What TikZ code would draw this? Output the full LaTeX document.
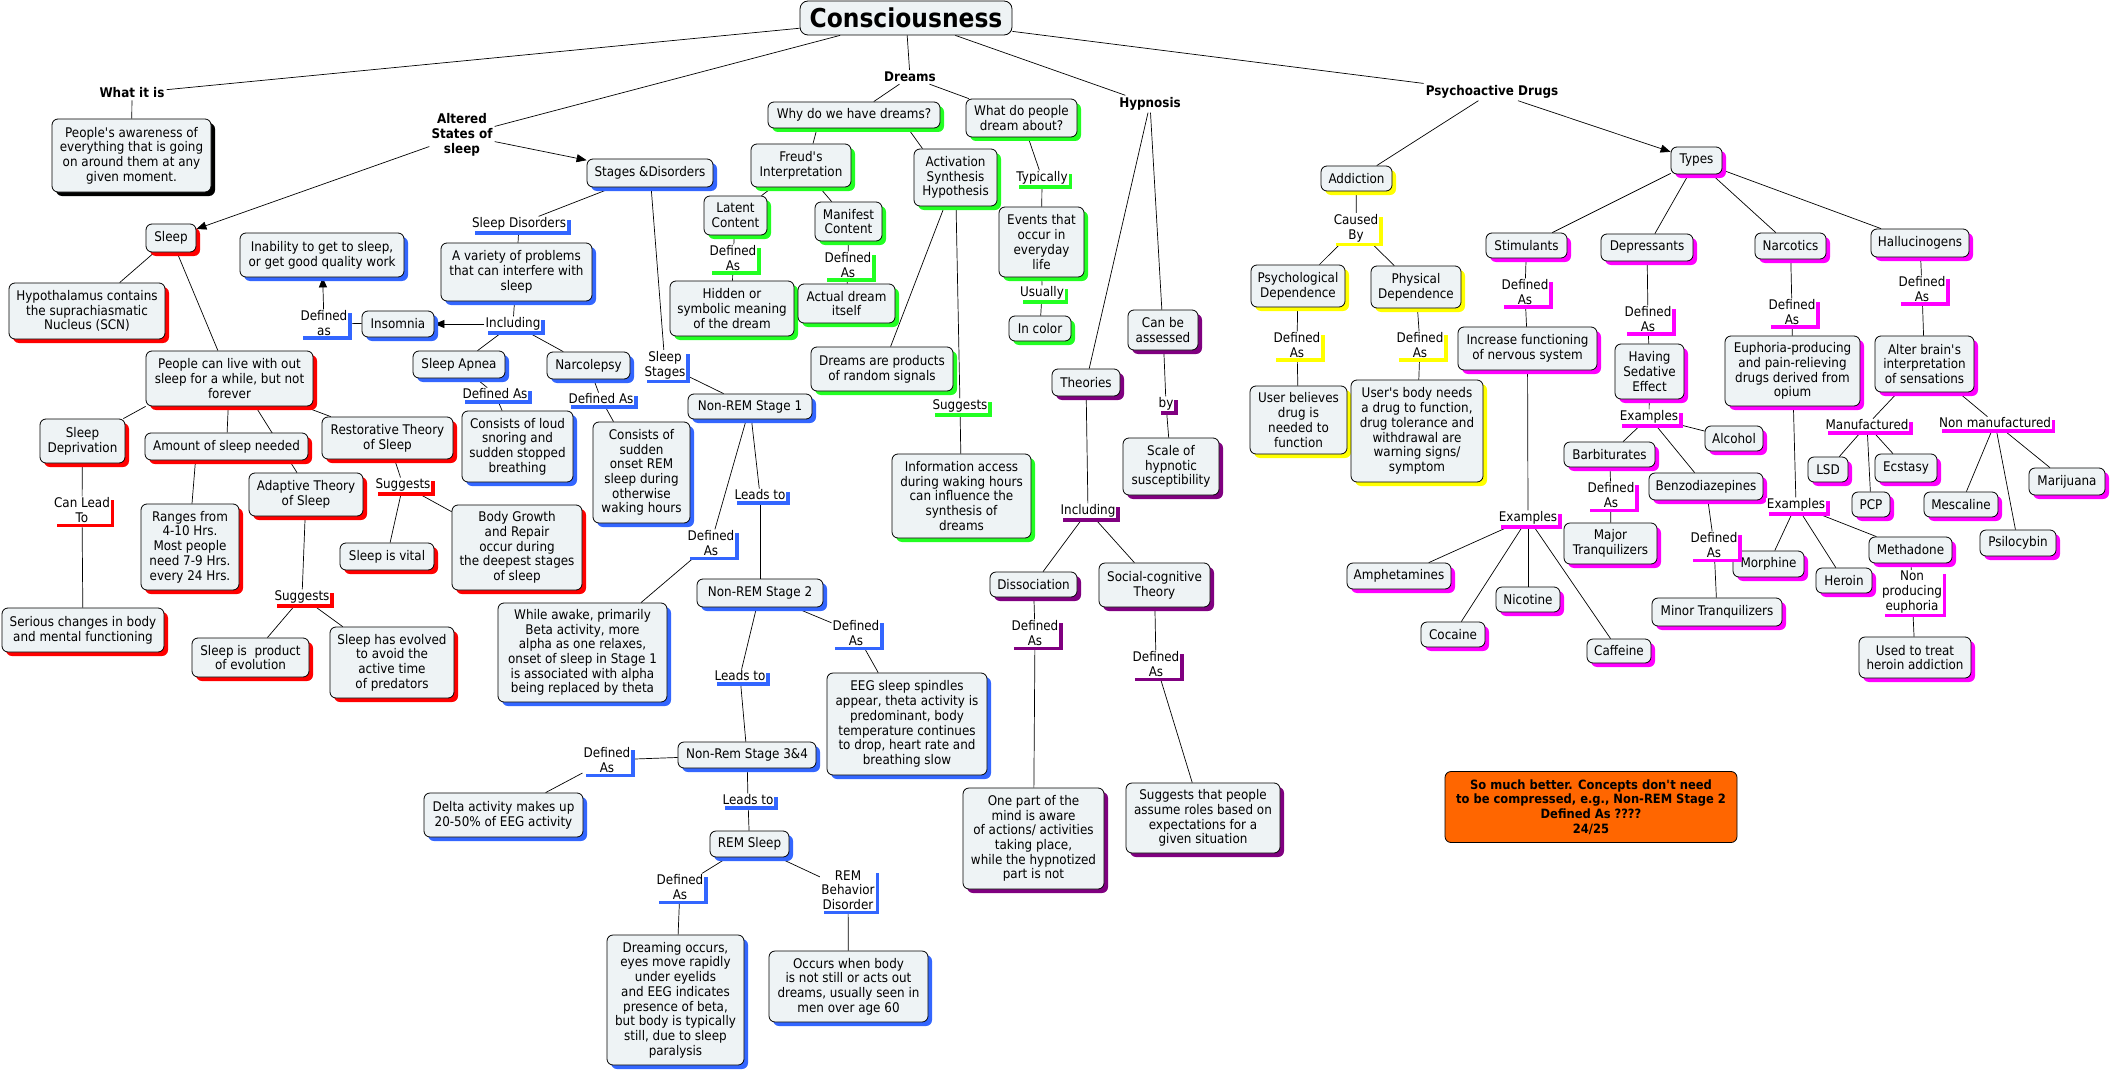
\documentclass[tikz,border=0pt]{standalone}
\usepackage{fontspec}
\setmainfont{DejaVu Sans}[FakeStretch=0.9]
\usetikzlibrary{shadows,arrows.meta}
\definecolor{cred}{HTML}{FF0000}
\definecolor{cblue}{HTML}{3366FF}
\definecolor{cgreen}{HTML}{22FF22}
\definecolor{cyellow}{HTML}{FFFF00}
\definecolor{cmag}{HTML}{FF00FF}
\definecolor{cpurple}{HTML}{800080}
\definecolor{boxfill}{HTML}{EEF3F5}
\definecolor{corange}{HTML}{FF6600}
\pgfdeclarelayer{bg}
\pgfsetlayers{bg,main}
\newcommand\fs{\fontsize{13.3}{14.7}\selectfont}
\newcommand\ap{\textquotesingle}
\tikzset{
  cbox/.style={draw=black, line width=0.8pt, rounded corners=6pt, fill=boxfill, align=center,
    inner xsep=2pt, inner ysep=1pt, font=\fs,
    drop shadow={shadow xshift=4pt, shadow yshift=-4pt, fill=#1, opacity=1}},
  lnk/.style={fill=white, align=center, inner sep=1pt, font=\fs,
    drop shadow={shadow xshift=3.5pt, shadow yshift=-3.5pt, fill=#1, opacity=1}},
  toplbl/.style={font=\fs\bfseries, align=center, inner sep=2pt},
  conbox/.style={draw=black, line width=0.8pt, rounded corners=8pt, fill=boxfill,
    font=\fontsize{26}{30}\selectfont\bfseries, inner sep=1pt},
  ln/.style={line width=0.7pt},
  arr/.style={ln, -{Triangle[length=10pt,width=8pt]}}
}
\newcommand\CB[7]{\node[cbox=#6,minimum width={#4-#2},minimum height={#5-#3}] (#1) at ({(#2+#4)/2},{(#3+#5)/2}) {#7};}
\newcommand\LK[5]{\node[lnk=#4] (#1) at (#2,#3) {#5};}
\begin{document}
\begin{tikzpicture}[x=1pt,y=-1pt]
\begin{pgfonlayer}{bg}
\fill[white] (0,0) rectangle (2110,1070);
\end{pgfonlayer}
\useasboundingbox (0,0) rectangle (2110,1070);

% top
\node[conbox, minimum width=212, minimum height=34] (cons) at (906,18) {Consciousness};
\node[toplbl] (whatis) at (132,93) {What it is};
\node[toplbl] (altered) at (462,135) {Altered\\States of\\sleep};
\node[toplbl] (dreams) at (910,77) {Dreams};
\node[toplbl] (hypnosis) at (1150,104) {Hypnosis};
\node[toplbl] (psycho) at (1492,92) {Psychoactive Drugs};

% black
\CB{aware}{52}{119}{211}{192}{black}{People\ap s awareness of\\everything that is going\\on around them at any\\given moment.}

% red
\CB{sleep}{146}{224}{196}{252}{cred}{Sleep}
\CB{hypo}{9}{283}{165}{339}{cred}{Hypothalamus contains\\the suprachiasmatic\\Nucleus (SCN)}
\CB{ppl}{146}{351}{313}{406}{cred}{People can live with out\\sleep for a while, but not\\forever}
\CB{sdep}{40}{419}{125}{463}{cred}{Sleep\\Deprivation}
\CB{serious}{2}{608}{164}{652}{cred}{Serious changes in body\\and mental functioning}
\CB{amt}{145}{433}{308}{460}{cred}{Amount of sleep needed}
\CB{ranges}{141}{504}{239}{590}{cred}{Ranges from\\4-10 Hrs.\\Most people\\need 7-9 Hrs.\\every 24 Hrs.}
\CB{adapt}{249}{473}{363}{516}{cred}{Adaptive Theory\\of Sleep}
\CB{product}{192}{638}{309}{677}{cred}{Sleep is~ product\\of evolution}
\CB{evolved}{330}{627}{454}{698}{cred}{Sleep has evolved\\to avoid the\\active time\\of predators}
\CB{resto}{322}{417}{453}{459}{cred}{Restorative Theory\\of Sleep}
\CB{vital}{340}{543}{434}{570}{cred}{Sleep is vital}
\CB{growth}{452}{505}{582}{590}{cred}{Body Growth\\and Repair\\occur during\\the deepest stages\\of sleep}

% blue
\CB{stages}{587}{159}{713}{187}{cblue}{Stages \&Disorders}
\CB{inab}{240}{233}{404}{277}{cblue}{Inability to get to sleep,\\or get good quality work}
\CB{insom}{362}{311}{434}{337}{cblue}{Insomnia}
\CB{variety}{441}{243}{592}{301}{cblue}{A variety of problems\\that can interfere with\\sleep}
\CB{apnea}{413}{351}{505}{378}{cblue}{Sleep Apnea}
\CB{narco}{547}{352}{630}{379}{cblue}{Narcolepsy}
\CB{loud}{462}{411}{573}{482}{cblue}{Consists of loud\\snoring and\\sudden stopped\\breathing}
\CB{sudden}{593}{422}{690}{523}{cblue}{Consists of\\sudden\\onset REM\\sleep during\\otherwise\\waking hours}
\CB{nrem1}{688}{394}{812}{419}{cblue}{Non-REM Stage 1}
\CB{awake}{498}{603}{667}{702}{cblue}{While awake, primarily\\Beta activity, more\\alpha as one relaxes,\\onset of sleep in Stage 1\\is associated with alpha\\being replaced by theta}
\CB{nrem2}{697}{579}{823}{607}{cblue}{Non-REM Stage 2}
\CB{eeg}{827}{673}{987}{775}{cblue}{EEG sleep spindles\\appear, theta activity is\\predominant, body\\temperature continues\\to drop, heart rate and\\breathing slow}
\CB{nrem34}{678}{742}{816}{768}{cblue}{Non-Rem Stage 3\&4}
\CB{delta}{424}{793}{583}{837}{cblue}{Delta activity makes up\\20-50\% of EEG activity}
\CB{rem}{710}{831}{789}{857}{cblue}{REM Sleep}
\CB{dreaming}{607}{935}{744}{1065}{cblue}{Dreaming occurs,\\eyes move rapidly\\under eyelids\\and EEG indicates\\presence of beta,\\but body is typically\\still, due to sleep\\paralysis}
\CB{occurs}{769}{951}{928}{1022}{cblue}{Occurs when body\\is not still or acts out\\dreams, usually seen in\\men over age 60}

% green
\CB{why}{768}{102}{940}{128}{cgreen}{Why do we have dreams?}
\CB{what}{966}{99}{1077}{137}{cgreen}{What do people\\dream about?}
\CB{freud}{751}{144}{851}{187}{cgreen}{Freud\ap s\\Interpretation}
\CB{act}{914}{149}{997}{206}{cgreen}{Activation\\Synthesis\\Hypothesis}
\CB{latent}{704}{196}{767}{235}{cgreen}{Latent\\Content}
\CB{manif}{815}{202}{882}{241}{cgreen}{Manifest\\Content}
\CB{hidden}{670}{281}{794}{336}{cgreen}{Hidden or\\symbolic meaning\\of the dream}
\CB{actual}{798}{284}{895}{323}{cgreen}{Actual dream\\itself}
\CB{random}{811}{347}{953}{391}{cgreen}{Dreams are products\\of random signals}
\CB{info}{892}{454}{1031}{538}{cgreen}{Information access\\during waking hours\\can influence the\\synthesis of\\dreams}
\CB{events}{999}{207}{1084}{277}{cgreen}{Events that\\occur in\\everyday\\life}
\CB{incolor}{1009}{316}{1071}{341}{cgreen}{In color}

% purple
\CB{theories}{1052}{369}{1120}{396}{cpurple}{Theories}
\CB{assessed}{1128}{310}{1198}{350}{cpurple}{Can be\\assessed}
\CB{scale}{1123}{438}{1219}{495}{cpurple}{Scale of\\hypnotic\\susceptibility}
\CB{dissoc}{990}{572}{1077}{597}{cpurple}{Dissociation}
\CB{social}{1099}{563}{1210}{607}{cpurple}{Social-cognitive\\Theory}
\CB{onepart}{963}{788}{1104}{889}{cpurple}{One part of the\\mind is aware\\of actions/ activities\\taking place,\\while the hypnotized\\part is not}
\CB{roles}{1126}{783}{1280}{853}{cpurple}{Suggests that people\\assume roles based on\\expectations for a\\given situation}

% yellow
\CB{addict}{1321}{166}{1392}{191}{cyellow}{Addiction}
\CB{psych}{1251}{265}{1345}{307}{cyellow}{Psychological\\Dependence}
\CB{phys}{1371}{266}{1461}{308}{cyellow}{Physical\\Dependence}
\CB{believes}{1250}{386}{1347}{454}{cyellow}{User believes\\drug is\\needed to\\function}
\CB{body}{1351}{380}{1483}{482}{cyellow}{User\ap s body needs\\a drug to function,\\drug tolerance and\\withdrawal are\\warning signs/\\symptom}

% magenta
\CB{types}{1671}{147}{1722}{174}{cmag}{Types}
\CB{stim}{1486}{233}{1567}{258}{cmag}{Stimulants}
\CB{depr}{1601}{234}{1693}{261}{cmag}{Depressants}
\CB{narc}{1755}{233}{1826}{259}{cmag}{Narcotics}
\CB{hall}{1871}{229}{1969}{257}{cmag}{Hallucinogens}
\CB{incr}{1458}{327}{1597}{370}{cmag}{Increase functioning\\of nervous system}
\CB{amph}{1347}{563}{1451}{589}{cmag}{Amphetamines}
\CB{cocaine}{1421}{622}{1485}{647}{cmag}{Cocaine}
\CB{nicotine}{1496}{587}{1560}{612}{cmag}{Nicotine}
\CB{caffeine}{1587}{639}{1651}{663}{cmag}{Caffeine}
\CB{sedative}{1615}{344}{1684}{399}{cmag}{Having\\Sedative\\Effect}
\CB{alcohol}{1705}{426}{1763}{451}{cmag}{Alcohol}
\CB{barb}{1564}{442}{1655}{467}{cmag}{Barbiturates}
\CB{major}{1564}{523}{1657}{564}{cmag}{Major\\Tranquilizers}
\CB{benzo}{1649}{473}{1763}{500}{cmag}{Benzodiazepines}
\CB{minor}{1652}{598}{1782}{626}{cmag}{Minor Tranquilizers}
\CB{euph}{1725}{336}{1860}{406}{cmag}{Euphoria-producing\\and pain-relieving\\drugs derived from\\opium}
\CB{morph}{1733}{551}{1804}{577}{cmag}{Morphine}
\CB{heroin}{1816}{568}{1872}{593}{cmag}{Heroin}
\CB{metha}{1869}{537}{1952}{563}{cmag}{Methadone}
\CB{treat}{1859}{637}{1971}{678}{cmag}{Used to treat\\heroin addiction}
\CB{alter}{1875}{336}{1974}{392}{cmag}{Alter brain\ap s\\interpretation\\of sensations}
\CB{lsd}{1808}{457}{1848}{482}{cmag}{LSD}
\CB{ecstasy}{1875}{454}{1937}{482}{cmag}{Ecstasy}
\CB{pcp}{1852}{492}{1890}{517}{cmag}{PCP}
\CB{mesc}{1924}{492}{1998}{517}{cmag}{Mescaline}
\CB{psilo}{1980}{530}{2056}{556}{cmag}{Psilocybin}
\CB{mari}{2029}{468}{2105}{495}{cmag}{Marijuana}

% note
\node[draw=black, line width=0.8pt, rounded corners=6pt, fill=corange, align=center,
  font=\fontsize{12.8}{14.7}\selectfont\bfseries, inner sep=1pt,
  minimum width=292, minimum height=71] (note) at (1591,807)
  {So much better. Concepts don\ap t need\\to be compressed, e.g., Non-REM Stage 2\\Defined As ????\\24/25};

% linking phrases
\LK{defas1}{324}{323}{cblue}{Defined\\as}
\LK{incl1}{513}{324}{cblue}{Including}
\LK{sdis}{519}{224}{cblue}{Sleep Disorders}
\LK{dap}{495}{394}{cblue}{Defined As}
\LK{dnar}{601}{399}{cblue}{Defined As}
\LK{sstages}{665}{365}{cblue}{Sleep\\Stages}
\LK{lead1}{760}{495}{cblue}{Leads to}
\LK{dn1}{711}{543}{cblue}{Defined\\As}
\LK{dn2}{856}{633}{cblue}{Defined\\As}
\LK{lead2}{740}{676}{cblue}{Leads to}
\LK{dn34}{607}{760}{cblue}{Defined\\As}
\LK{lead3}{748}{800}{cblue}{Leads to}
\LK{drem}{680}{887}{cblue}{Defined\\As}
\LK{rbd}{848}{890}{cblue}{REM\\Behavior\\Disorder}
\LK{canlead}{82}{510}{cred}{Can Lead\\To}
\LK{sug1}{403}{485}{cred}{Suggests}
\LK{sug2}{302}{597}{cred}{Suggests}
\LK{dlat}{733}{258}{cgreen}{Defined\\As}
\LK{dman}{848}{265}{cgreen}{Defined\\As}
\LK{sug3}{960}{406}{cgreen}{Suggests}
\LK{typ}{1042}{178}{cgreen}{Typically}
\LK{usu}{1042}{293}{cgreen}{Usually}
\LK{by}{1166}{404}{cpurple}{by}
\LK{incl2}{1088}{511}{cpurple}{Including}
\LK{ddis}{1035}{633}{cpurple}{Defined\\As}
\LK{dsoc}{1156}{664}{cpurple}{Defined\\As}
\LK{caused}{1356}{228}{cyellow}{Caused\\By}
\LK{dpsy}{1297}{345}{cyellow}{Defined\\As}
\LK{dphy}{1420}{345}{cyellow}{Defined\\As}
\LK{dstim}{1525}{292}{cmag}{Defined\\As}
\LK{ex1}{1528}{518}{cmag}{Examples}
\LK{ddep}{1648}{319}{cmag}{Defined\\As}
\LK{ex2}{1649}{417}{cmag}{Examples}
\LK{dbarb}{1611}{495}{cmag}{Defined\\As}
\LK{dbenz}{1714}{545}{cmag}{Defined\\As}
\LK{dnarc}{1792}{312}{cmag}{Defined\\As}
\LK{ex3}{1796}{505}{cmag}{Examples}
\LK{nonprod}{1912}{592}{cmag}{Non\\producing\\euphoria}
\LK{dhall}{1922}{289}{cmag}{Defined\\As}
\LK{manu}{1867}{425}{cmag}{Manufactured}
\LK{nonmanu}{1995}{423}{cmag}{Non manufactured}

% connectors
\begin{pgfonlayer}{bg}
\draw[arr] (altered) -- (sleep);
\draw[arr] (altered) -- (stages);
\draw[arr] (psycho) -- (types);
\draw[arr] (defas1) -- (inab);
\draw[arr] (incl1) -- (insom);
\foreach \a/\b in {cons/whatis, whatis/aware, cons/altered, cons/dreams, cons/hypnosis, cons/psycho,
  sleep/hypo, sleep/ppl, ppl/amt, ppl/resto, sdep/canlead, canlead/serious,
  resto/sug1, sug1/vital, sug1/growth, adapt/sug2, sug2/product, sug2/evolved,
  stages/sdis, sdis/variety, variety/incl1, insom/defas1, incl1/apnea, incl1/narco,
  apnea/dap, dap/loud, narco/dnar, dnar/sudden,
  stages/sstages, sstages/nrem1, nrem1/lead1, lead1/nrem2, nrem1/dn1, dn1/awake,
  nrem2/dn2, dn2/eeg, nrem2/lead2, lead2/nrem34, nrem34/dn34, dn34/delta,
  nrem34/lead3, lead3/rem, rem/drem, drem/dreaming, rem/rbd, rbd/occurs,
  dreams/why, dreams/what, freud/latent, freud/manif, latent/dlat, dlat/hidden,
  manif/dman, dman/actual, act/random, act/sug3, sug3/info, what/typ, typ/events,
  events/usu, usu/incolor,
  hypnosis/theories, hypnosis/assessed, assessed/by, by/scale, theories/incl2,
  incl2/dissoc, incl2/social, dissoc/ddis, ddis/onepart, social/dsoc, dsoc/roles,
  psycho/addict, addict/caused, caused/psych, caused/phys, psych/dpsy, dpsy/believes,
  phys/dphy, dphy/body,
  types/stim, types/depr, types/narc, types/hall, stim/dstim, dstim/incr, incr/ex1,
  ex1/amph, ex1/cocaine, ex1/nicotine, ex1/caffeine, depr/ddep, ddep/sedative,
  sedative/ex2, ex2/barb, ex2/alcohol, ex2/benzo, barb/dbarb, dbarb/major,
  benzo/dbenz, dbenz/minor, narc/dnarc, dnarc/euph, euph/ex3, ex3/morph, ex3/heroin,
  ex3/metha, metha/nonprod, nonprod/treat, hall/dhall, dhall/alter, alter/manu,
  alter/nonmanu, manu/lsd, manu/pcp, manu/ecstasy, nonmanu/mesc, nonmanu/psilo,
  nonmanu/mari}
  \draw[ln] (\a) -- (\b);
\draw[ln] (ppl.south west) -- (sdep);
\draw[ln] ([xshift=26pt]ppl.south) -- ([xshift=-9pt]adapt.north);
\draw[ln] ([xshift=-31pt]amt.south) -- ([xshift=2pt]ranges.north);
\draw[ln] ([xshift=-37pt]why.south) -- ([xshift=12pt]freud.north);
\draw[ln] ([xshift=54pt]why.south) -- ([xshift=-33pt]act.north);
\end{pgfonlayer}
\end{tikzpicture}
\end{document}
